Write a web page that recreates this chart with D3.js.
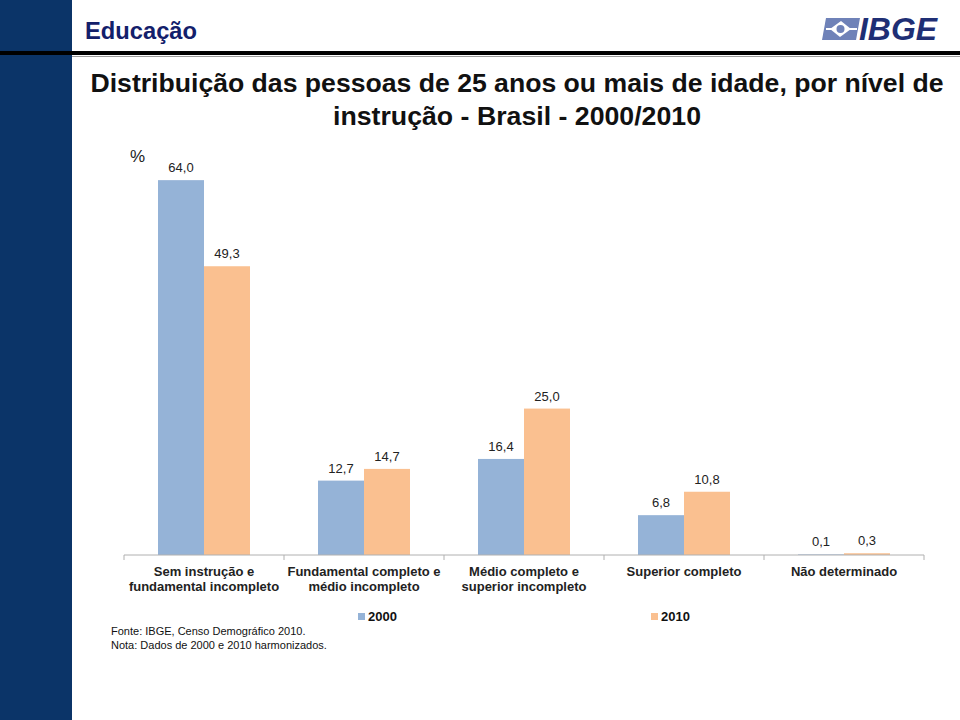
<!DOCTYPE html>
<html><head><meta charset="utf-8">
<script src="https://cdn.jsdelivr.net/npm/d3@7"></script>
<style>
body{margin:0;background:#fff;}
svg{display:block;font-family:"Liberation Sans",Arial,sans-serif;}
</style></head>
<body>
<svg id="c" width="960" height="720"></svg>
<script>
const categories = [
  ["Sem instrução e","fundamental incompleto"],
  ["Fundamental completo e","médio incompleto"],
  ["Médio completo e","superior incompleto"],
  ["Superior completo"],
  ["Não determinado"]
];
const seriesNames = ["2000","2010"];
const values2000 = [64.0, 12.7, 16.4, 6.8, 0.1];
const values2010 = [49.3, 14.7, 25.0, 10.8, 0.3];
const colors = ["#95b3d7","#fac090"];
const titleLines = ["Distribuição das pessoas de 25 anos ou mais de idade, por nível de","instrução - Brasil - 2000/2010"];
const footLines = ["Fonte: IBGE, Censo Demográfico 2010.","Nota: Dados de 2000 e 2010 harmonizados."];

const svg = d3.select("#c");
// frame
svg.append("rect").attr("x",0).attr("y",0).attr("width",72).attr("height",720).attr("fill","#0b3468");
svg.append("rect").attr("x",0).attr("y",51).attr("width",960).attr("height",4).attr("fill","#000");
svg.append("rect").attr("x",72).attr("y",56).attr("width",888).attr("height",1).attr("fill","#9a9a9a");
svg.append("text").attr("x",85).attr("y",39).attr("font-size",24).attr("font-weight","bold")
  .attr("fill","#13206b").attr("textLength",112).attr("lengthAdjust","spacingAndGlyphs").text("Educação");

// logo
const lg = svg.append("g").attr("transform","translate(822,18)");
lg.append("path").attr("d","M4,0 L38,0 L34,22 L0,22 Z").attr("fill","#6f82b8");
lg.append("path").attr("d","M19,3 L29,11 L18,19 L8,11 Z").attr("fill","#fff");
lg.append("circle").attr("cx",18.5).attr("cy",11).attr("r",4).attr("fill","#6f82b8");
lg.append("path").attr("d","M4,11 L10,11 M27,11 L35,11").attr("stroke","#fff").attr("stroke-width",2);
svg.append("text").attr("x",859).attr("y",40).attr("font-size",31).attr("font-weight","bold")
  .attr("font-style","italic").attr("fill","#1f2f75").attr("textLength",78).attr("lengthAdjust","spacingAndGlyphs").text("IBGE");

// title
svg.append("g").selectAll("text").data(titleLines).join("text")
  .attr("x",517).attr("y",(d,i)=>92+i*33).attr("text-anchor","middle")
  .attr("font-size",25).attr("font-weight","bold").attr("fill","#111")
  .attr("textLength",(d,i)=>i===0?853:368).attr("lengthAdjust","spacingAndGlyphs").text(d=>d);
svg.append("text").attr("x",130).attr("y",162).attr("font-size",17).attr("fill","#222").text("%");

// chart
const x0 = d3.scaleBand().domain(d3.range(categories.length)).range([124,924]).paddingInner(0).paddingOuter(0);
const x1 = d3.scaleBand().domain([0,1]).range([x0.bandwidth()/2-46, x0.bandwidth()/2+46]);
const y = d3.scaleLinear().domain([0,70]).range([555,145]);

const data = categories.map((c,i)=>({i, vals:[values2000[i], values2010[i]]}));
const g = svg.append("g");
const grp = g.selectAll("g.cat").data(data).join("g").attr("transform",d=>`translate(${x0(d.i)},0)`);
grp.selectAll("rect").data(d=>d.vals).join("rect")
  .attr("x",(v,j)=>x1(j)).attr("width",x1.bandwidth())
  .attr("y",v=>y(v)).attr("height",v=>y(0)-y(v)).attr("fill",(v,j)=>colors[j]);
grp.selectAll("text.val").data(d=>d.vals).join("text").attr("class","val")
  .attr("x",(v,j)=>x1(j)+x1.bandwidth()/2).attr("y",v=>y(v)-8).attr("text-anchor","middle")
  .attr("font-size",13).attr("fill","#222").text(v=>d3.format(".1f")(v).replace(".",","));

// axis
const axisG = svg.append("g").attr("transform","translate(0,555)");
axisG.append("line").attr("x1",124).attr("x2",924).attr("stroke","#b0b0b0");
axisG.selectAll("line.t").data(d3.range(categories.length+1)).join("line").attr("class","t")
  .attr("x1",d=>124+d*x0.bandwidth()).attr("x2",d=>124+d*x0.bandwidth()).attr("y1",0).attr("y2",5).attr("stroke","#b0b0b0");
const cl = axisG.selectAll("text.cat").data(categories).join("text").attr("class","cat")
  .attr("text-anchor","middle").attr("font-size",13).attr("font-weight","bold").attr("fill","#222")
  .attr("transform",(d,i)=>`translate(${x0(i)+x0.bandwidth()/2},0)`);
cl.selectAll("tspan").data(d=>d).join("tspan").attr("x",0).attr("y",(d,i)=>21+i*15).text(d=>d);

// legend
const legX = [358, 651];
const lgd = svg.append("g").selectAll("g").data(seriesNames).join("g").attr("transform",(d,i)=>`translate(${legX[i]},612)`);
lgd.append("rect").attr("width",7).attr("height",7).attr("y",1).attr("fill",(d,i)=>colors[i]);
lgd.append("text").attr("x",10).attr("y",9).attr("font-size",13).attr("font-weight","bold").attr("fill","#111").text(d=>d);

// footer
svg.append("g").selectAll("text").data(footLines).join("text")
  .attr("x",111).attr("y",(d,i)=>635+i*14).attr("font-size",11).attr("fill","#111").text(d=>d);
</script>
</body></html>
